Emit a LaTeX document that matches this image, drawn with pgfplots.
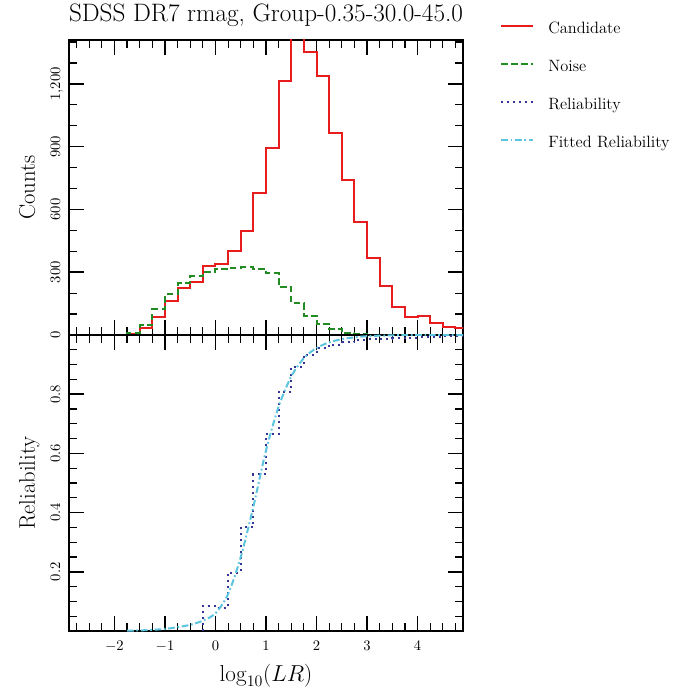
\documentclass[border=0pt]{standalone}
\usepackage{pgfplots}
\pgfplotsset{compat=1.18}
\definecolor{cRed}{RGB}{232,28,28}
\definecolor{cGreen}{RGB}{34,139,34}
\definecolor{cNavy}{RGB}{52,52,150}
\definecolor{cCyan}{RGB}{92,196,222}
\pgfplotsset{
  every axis title shift=0pt,
  common/.style={
    scale only axis,
    width=295.5pt,
    xmin=-2.9, xmax=4.9,
    xtick={-2,-1,0,1,2,3,4},
    minor xtick={-2.75,-2.5,...,4.75},
    tick align=inside,
    major tick length=11.6pt,
    minor tick length=6pt,
    axis line style={line width=1.5pt},
    every major tick/.append style={line width=1.1pt, black},
    every minor tick/.append style={line width=0.9pt, black},
    ticklabel style={font=\fontsize{10.5}{12}\selectfont},
    yticklabel style={rotate=90, anchor=base, yshift=6.75pt},
    xticklabel style={anchor=base, yshift=-14.25pt},
    label style={font=\fontsize{17}{20}\selectfont},
    ylabel style={at={(axis description cs:-0.0863,0.5)}, anchor=base, rotate=0},
    xlabel style={at={(axis description cs:0.5,0)}, anchor=base, yshift=-37.5pt},
    clip=true,
  }
}
\begin{document}
\begin{tikzpicture}
\useasboundingbox (-51.75pt,30pt) rectangle (452.25pt,-488.25pt);
\begin{axis}[common,
  name=top,
  at={(0,0)}, anchor=north west,
  height=221.25pt,
  ymin=0, ymax=1410,
  ytick={0,300,600,900,1200},
  minor ytick={100,200,400,500,700,800,1000,1100,1300,1400},
  xticklabels={},
  ylabel={Counts},
  title={SDSS DR7 rmag, Group-0.35-30.0-45.0},
  title style={font=\fontsize{18.9}{22}\selectfont, at={(axis description cs:0.5,1)}, anchor=base, yshift=13.5pt},
  legend image code/.code={\draw[#1] (0pt,0pt) -- (24pt,0pt);},
  legend style={draw=none, fill=none, inner sep=0pt,
    at={(axis description cs:1.0939,1.0768)}, anchor=north west,
    font=\fontsize{12.3}{14}\selectfont,
    nodes={inner sep=0pt, text height=12pt, text depth=0pt},
    cells={anchor=west}, row sep=16.5pt,
    /tikz/every odd column/.append style={column sep=10.5pt}},
]
\addplot[const plot mark left, color=cRed, line width=1.5pt] coordinates {
(-1.75,0) (-1.75,5) (-1.5,32) (-1.25,87) (-1.0,162) (-0.75,226) (-0.5,252) (-0.25,330)
(0,339) (0.25,400) (0.5,498) (0.75,680) (1.0,893) (1.25,1212) (1.5,1420) (1.75,1355)
(2.0,1236) (2.25,964) (2.5,739) (2.75,538) (3.0,368) (3.25,234) (3.5,132) (3.75,87)
(4.0,91) (4.25,56) (4.5,37) (4.75,35) (5.0,35)};
\addlegendentry{Candidate}
\addplot[const plot mark left, color=cGreen, line width=1.5pt, dash pattern=on 5pt off 2.5pt] coordinates {
(-1.75,0) (-1.75,11) (-1.5,48) (-1.25,122) (-1.0,194) (-0.75,247) (-0.5,280) (-0.25,301)
(0,314) (0.25,322) (0.5,323) (0.75,317) (1.0,295) (1.25,229) (1.5,151) (1.75,92)
(2.0,53) (2.25,29) (2.5,11) (2.75,5) (3.0,2) (3.25,1) (3.5,0.5) (3.75,0) (4.0,0) (5.0,0)};
\addlegendentry{Noise}
\addlegendimage{color=cNavy, line width=1.5pt, dash pattern=on 1.5pt off 3pt}
\addlegendentry{Reliability}
\addlegendimage{color=cCyan, line width=1.5pt, dash pattern=on 5pt off 2pt on 1.3pt off 2pt}
\addlegendentry{Fitted Reliability}
\end{axis}
\begin{axis}[common,
  name=bot,
  at={(top.south west)}, anchor=north west,
  height=222pt,
  ymin=0, ymax=1.0,
  ytick={0.2,0.4,0.6,0.8},
  minor ytick={0.05,0.1,0.15,0.25,0.3,0.35,0.45,0.5,0.55,0.65,0.7,0.75,0.85,0.9,0.95},
  yticklabel style={/pgf/number format/fixed, /pgf/number format/precision=1},
  ylabel={Reliability},
  xlabel={$\log_{10}(LR)$},
]
\addplot[const plot mark left, color=cNavy, line width=1.5pt, dash pattern=on 1.5pt off 3pt] coordinates {
(-0.25,0) (-0.25,0.085) (0,0.078) (0.25,0.197) (0.5,0.352) (0.75,0.531) (1.0,0.664)
(1.25,0.809) (1.5,0.893) (1.75,0.934) (2.0,0.956) (2.25,0.967) (2.5,0.977) (2.75,0.984)
(3.0,0.986) (3.25,0.988) (3.5,0.99) (3.75,0.991) (4.0,0.993) (4.25,0.994) (4.5,0.995)
(4.75,0.996) (5.0,0.996)};
\addplot[smooth, color=cCyan, line width=1.5pt, dash pattern=on 5pt off 2pt on 1.3pt off 2pt] coordinates {
(-1.75,0.001) (-1.5,0.002) (-1.25,0.004) (-1.0,0.007) (-0.75,0.013) (-0.5,0.021)
(-0.25,0.035) (0,0.06) (0.25,0.125) (0.5,0.25) (0.75,0.42) (1.0,0.61) (1.25,0.758)
(1.5,0.86) (1.75,0.922) (2.0,0.956) (2.25,0.975) (2.5,0.986) (2.75,0.992) (3.0,0.996)
(3.5,0.999) (4.0,1.0) (4.9,1.0)};
\end{axis}
\end{tikzpicture}
\end{document}
